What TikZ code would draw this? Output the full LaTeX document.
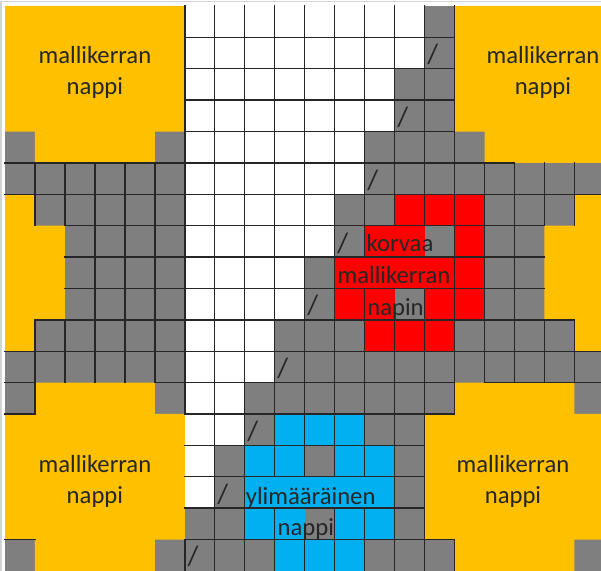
\documentclass[tikz,border=0pt]{standalone}
\usepackage{fontspec}
\setmainfont{Carlito}
\usetikzlibrary{calc}

\definecolor{keyorange}{HTML}{FFC000}
\definecolor{keygrey}{HTML}{7F7F7F}
\definecolor{keyred}{HTML}{FF0000}
\definecolor{keyblue}{HTML}{00B0F0}
\definecolor{edgegrey}{HTML}{D4D4D4}

\tikzset{
  gridline/.style={draw=black!85, line width=1.05pt, line cap=rect},
  keylabel/.style={anchor=base, inner sep=0pt, font=\fontsize{18.5}{20}\selectfont, text=black!85},
  slashmark/.style={keylabel, anchor=center, font=\fontsize{21}{22}\selectfont}
}

\begin{document}
\begin{tikzpicture}[x=22.48pt, y=-23.54pt]

\clip (-0.167,-0.191) rectangle (19.887,18);
\fill[white] (-0.167,-0.191) rectangle (19.887,18);
\fill[keygrey] (0,0) rectangle (20,18);

% white stairs
\fill[white] (6,0) -- (14,0) -- (14,2) -- (13,2) -- (13,4) -- (12,4) -- (12,6) -- (11,6)
  -- (11,8) -- (10,8) -- (10,10) -- (9,10) -- (9,12) -- (8,12) -- (8,14) -- (7,14)
  -- (7,16) -- (6,16) -- cycle;

% orange buttons
\fill[keyorange] (0,0) -- (6,0) -- (6,4) -- (5,4) -- (5,5) -- (1,5) -- (1,4) -- (0,4) -- cycle;
\fill[keyorange] (15,0) -- (20,0) -- (20,5) -- (16,5) -- (16,4) -- (15,4) -- cycle;
\fill[keyorange] (0,6) -- (1,6) -- (1,7) -- (2,7) -- (2,10) -- (1,10) -- (1,11) -- (0,11) -- cycle;
\fill[keyorange] (20,6) -- (19,6) -- (19,7) -- (18,7) -- (18,10) -- (19,10) -- (19,11) -- (20,11) -- cycle;
\fill[keyorange] (1,12) -- (5,12) -- (5,13) -- (6,13) -- (6,17) -- (5,17) -- (5,18) -- (1,18)
  -- (1,17) -- (0,17) -- (0,13) -- (1,13) -- cycle;
\fill[keyorange] (15,12) -- (19,12) -- (19,13) -- (20,13) -- (20,17) -- (19,17) -- (19,18)
  -- (15,18) -- (15,17) -- (14,17) -- (14,13) -- (15,13) -- cycle;

% red and blue cells
\foreach \xa/\ya/\xb/\yb in {13/6/16/7, 12/7/14/8, 15/7/16/8, 11/8/16/9, 11/9/13/10, 14/9/16/10, 12/10/15/11}
  \fill[keyred] (\xa,\ya) rectangle (\xb,\yb);
\foreach \xa/\ya/\xb/\yb in {9/13/12/14, 8/14/10/15, 11/14/13/15, 8/15/13/16, 8/16/10/17, 11/16/13/17, 9/17/12/18}
  \fill[keyblue] (\xa,\ya) rectangle (\xb,\yb);

% horizontal lines: row / from / to
\foreach \ya/\xa/\xb in {1/6/15, 2/6/15, 3/6/15, 4/6/15, 5/0/17, 6/0/20, 7/2/18, 8/2/18, 9/2/18,
    10/1/19, 11/0/20, 12/0/1, 12/5/15, 12/16/20, 13/0/1, 13/6/15, 14/6/14, 15/6/14, 16/6/14,
    17/0/1, 17/6/15}
  \draw[gridline] (\xa,\ya) -- (\xb,\ya);

% vertical lines: column / from / to
\foreach \xa/\ya/\yb in {1/5/7, 1/10/13, 2/5/7, 2/10/12, 3/5/12, 4/5/12, 5/5/12, 6/0/13, 6/17/18,
    7/0/18, 8/0/18, 9/0/15, 9/16/18, 10/0/15, 10/17/18, 11/0/15, 11/16/18, 12/0/8, 12/9/15, 12/16/18,
    13/0/7, 13/10/18, 14/0/7, 14/9/18, 15/0/13, 15/17/18, 16/5/12, 17/5/12, 18/5/7, 18/10/12,
    19/5/7, 19/10/12}
  \draw[gridline] (\xa,\ya) -- (\xa,\yb);

% edge of the screenshot
\draw[edgegrey, line width=1pt] (-0.13,18) -- (-0.13,-0.14) -- (19.887,-0.14);

% slashes on the stairs
\foreach \xa/\ya in {14/1, 13/3, 12/5, 11/7, 10/9, 9/11, 8/13, 7/15, 6/17}
  \node[slashmark] (slash\xa) at ($(\xa,\ya) + (0.27,0.55)$) {/};

\coordinate (tleft) at (3,1.83);
\coordinate (tright) at (17.95,1.83);
\coordinate (bleft) at (3,14.86);
\coordinate (bright) at (16.95,14.86);

\node[keylabel] (tleftone) at (tleft) {mallikerran};
\node[keylabel] (tlefttwo) at ($(tleft) + (0,0.98)$) {nappi};
\node[keylabel] (trightone) at (tright) {mallikerran};
\node[keylabel] (trighttwo) at ($(tright) + (0,0.98)$) {nappi};
\node[keylabel] (bleftone) at (bleft) {mallikerran};
\node[keylabel] (blefttwo) at ($(bleft) + (0,0.98)$) {nappi};
\node[keylabel] (brightone) at (bright) {mallikerran};
\node[keylabel] (brighttwo) at ($(bright) + (0,0.98)$) {nappi};

\node[keylabel] (redone) at (13.18,7.82) {korvaa};
\node[keylabel] (redtwo) at (12.98,8.84) {mallikerran};
\node[keylabel] (redthree) at (13.03,9.86) {napin};

\node[keylabel] (blueone) at (10.2,15.88) {ylimääräinen};
\node[keylabel] (bluetwo) at (10.04,16.87) {nappi};

\end{tikzpicture}
\end{document}
